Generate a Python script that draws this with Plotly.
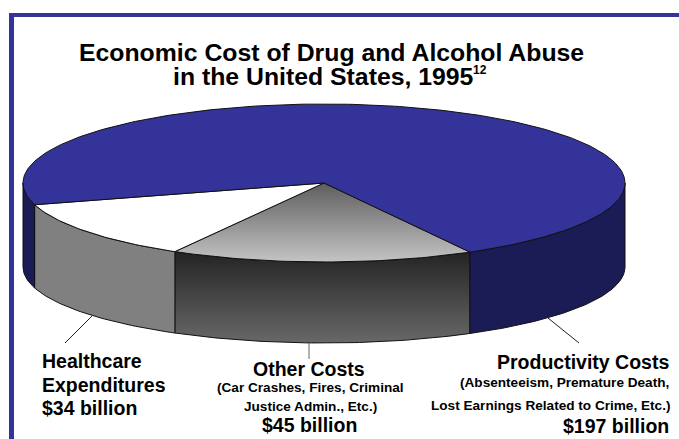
import numpy as np
import plotly.graph_objects as go

# Cost categories in billions of dollars, drawn clockwise from the front of the pie
categories = ["Other Costs", "Healthcare Expenditures", "Productivity Costs"]
values = [45, 34, 197]
top_colors = ["#8f8f8f", "#ffffff", "#333399"]
side_colors = ["#444444", "#808080", "#1b1b55"]

NAVY = "#333399"
FONT = "Liberation Sans, Arial, sans-serif"

# Projected disc geometry, in page pixels
CX, CY, RX, RY, DEPTH, RY_BASE = 324.0, 183.0, 301.0, 79.0, 84.0, 76.0
START_DEG = -29.0


def rim(phi_deg, drop=0.0, ry=RY):
    """Point on the disc edge; phi is measured clockwise from the front."""
    phi = np.radians(phi_deg)
    return CX - RX * np.sin(phi), CY + ry * np.cos(phi) + drop


def arc(a, b, drop=0.0, ry=RY, step=1.0):
    n = max(2, int(abs(b - a) / step) + 1)
    return rim(np.linspace(a, b, n), drop, ry)


spans = []
start = START_DEG
total = sum(values)
for v in values:
    end = start + 360.0 * v / total
    spans.append((start, end))
    start = end

fig = go.Figure()
outline = dict(color="#111111", width=1)


def add_poly(xs, ys, color=None, gradient=None):
    kw = dict(fillgradient=gradient) if gradient else dict(fillcolor=color)
    fig.add_trace(go.Scatter(x=xs, y=ys, mode="lines", fill="toself", line=outline,
                             hoverinfo="skip", showlegend=False, **kw))


def add_side(a, b, color=None, gradient=None):
    # Only the part of the wall facing the viewer is visible
    a, b = max(a, -90.0), min(b, 90.0)
    if b <= a:
        return
    xt, yt = arc(a, b)
    xb, yb = arc(b, a, DEPTH, RY_BASE)
    add_poly(np.r_[xt, xb, xt[0]], np.r_[yt, yb, yt[0]], color, gradient)


# Walls
other_wall = dict(type="vertical", start=CY + RY - 16, stop=CY + RY + DEPTH - 3,
                  colorscale=[[0, "#1f1f1f"], [1, "#686868"]])
other_top = dict(type="vertical", start=CY, stop=CY + RY,
                 colorscale=[[0, "#5e5e5e"], [1, "#c4c4c4"]])

for i, (a, b) in enumerate(spans):
    if i == 0:
        add_side(a, b, gradient=other_wall)
    else:
        add_side(a, b, side_colors[i])
        add_side(a - 360, b - 360, side_colors[i])

# Top faces
for i, (a, b) in enumerate(spans):
    xa, ya = arc(a, b)
    xs = np.r_[CX, xa, CX]
    ys = np.r_[CY, ya, CY]
    if i == 0:
        add_poly(xs, ys, gradient=other_top)
    else:
        add_poly(xs, ys, top_colors[i])

# Leader lines and frame
shapes = [
    dict(type="line", x0=92, y0=316, x1=65, y1=343, line=dict(color="#222222", width=1)),
    dict(type="line", x0=309, y0=343, x1=309, y1=359, line=dict(color="#666666", width=1)),
    dict(type="line", x0=548, y0=318, x1=579, y1=343, line=dict(color="#222222", width=1)),
    dict(type="rect", x0=9, y0=13, x1=14, y1=439, fillcolor=NAVY, line=dict(width=0)),
    dict(type="rect", x0=9, y0=13, x1=679, y1=17, fillcolor=NAVY, line=dict(width=0)),
]


def label(text, x, y, size, anchor="center"):
    return dict(text=text, x=x, y=y, xref="x", yref="y", xanchor=anchor, yanchor="middle",
                showarrow=False, font=dict(family=FONT, size=size, color="#000000"))


B = "<b>{}</b>"
annotations = [
    label(B.format("Economic Cost of Drug and Alcohol Abuse"), 331, 52, 24.8),
    label(B.format("in the United States, 1995"), 323, 76, 24.8),
    label(B.format("12"), 480, 70, 12, "center"),
    label(B.format("Healthcare"), 40, 361, 19.5, "left"),
    label(B.format("Expenditures"), 40, 385, 19.5, "left"),
    label(B.format("$34 billion"), 40, 408, 19.5, "left"),
    label(B.format("Other Costs"), 309, 369, 19.5),
    label(B.format("(Car Crashes, Fires, Criminal"), 310, 387, 13.6),
    label(B.format("Justice Admin., Etc.)"), 310, 406, 13.6),
    label(B.format("$45 billion"), 309, 425, 19.5),
    label(B.format("Productivity Costs"), 671, 362, 19.5, "right"),
    label(B.format("(Absenteeism, Premature Death,"), 671, 382, 13.6, "right"),
    label(B.format("Lost Earnings Related to Crime, Etc.)"), 672, 405, 13.6, "right"),
    label(B.format("$197 billion"), 671, 426, 19.5, "right"),
]

fig.update_layout(
    width=679, height=439, margin=dict(l=0, r=0, t=0, b=0),
    paper_bgcolor="white", plot_bgcolor="white", showlegend=False,
    xaxis=dict(range=[0, 679], visible=False, fixedrange=True),
    yaxis=dict(range=[439, 0], visible=False, fixedrange=True),
    shapes=shapes, annotations=annotations,
)

fig.write_html("out.html", config=dict(displayModeBar=False))
